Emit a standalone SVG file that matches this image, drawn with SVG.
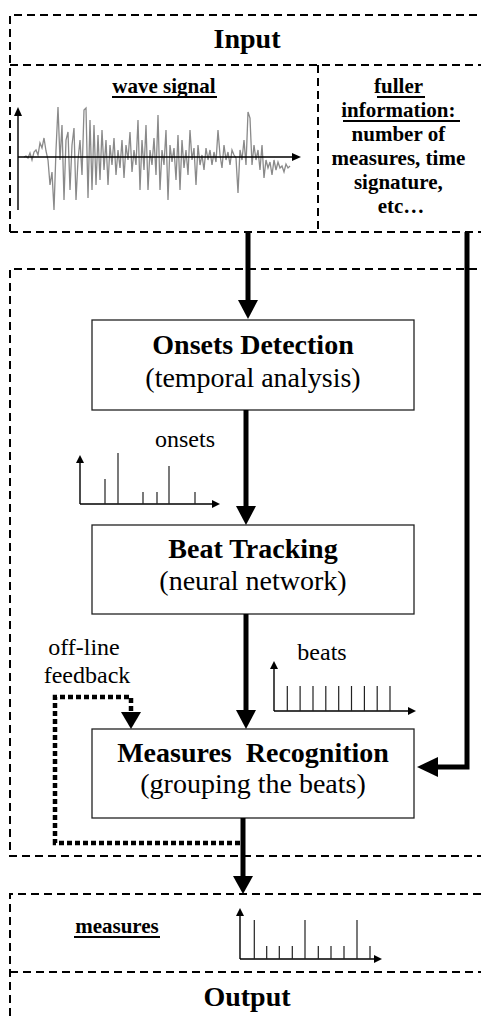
<svg xmlns="http://www.w3.org/2000/svg" width="481" height="1018" viewBox="0 0 481 1018">
<style>
.dash{fill:none;stroke:#000;stroke-width:2;stroke-dasharray:8,5}
.box{fill:#fff;stroke:#222;stroke-width:1.3}
.thick{fill:none;stroke:#000;stroke-width:5}
.dot{fill:none;stroke:#000;stroke-width:4.5;stroke-dasharray:5,3}
.ax{fill:none;stroke:#000;stroke-width:1.4}
.tk{fill:none;stroke:#222;stroke-width:1.2}
.hd{fill:#000}
.t{font-family:"Liberation Serif","Times New Roman",serif;fill:#000}
.b28{font-size:28px;font-weight:bold}
.r28{font-size:28px}
.r24{font-size:24px}
.b21{font-size:21px;font-weight:bold}
.ul{stroke:#000;stroke-width:2}
</style>
<rect width="481" height="1018" fill="#fff"/>

<g id="input">
<path class="dash" d="M10,232 V15 H481 M10,65 H481 M10,232 H481 M318,65 V232"/>
<text class="t b28" x="247" y="48" text-anchor="middle">Input</text>
</g>

<g id="wave-signal">
<text class="t b21" x="164" y="93" text-anchor="middle">wave signal</text>
<line class="ul" x1="112" y1="97" x2="217" y2="97"/>
<polyline fill="none" stroke="#8a8a8a" stroke-width="1.3" points="24,157 26,156 28,158 30,153 32,160 34,152 36,150 38,155 40,143 42,148 44,138 46,151 48,160 50,185 52,172 54,210 56,150 58,107 60,160 62,125 64,200 66,140 68,132 70,190 72,145 74,128 76,200 78,160 80,140 82,175 84,110 86,108 88,198 90,120 92,190 94,125 96,185 98,135 100,180 102,130 104,170 106,140 108,185 110,145 112,165 114,138 116,175 118,150 120,168 122,140 124,178 126,145 128,160 130,132 132,172 134,150 136,165 138,120 140,190 142,140 144,170 146,125 148,190 150,150 152,165 154,138 156,175 158,115 160,190 162,150 164,165 166,130 168,200 170,145 172,162 174,148 176,180 178,135 180,190 182,140 184,168 186,150 188,175 190,130 192,160 194,148 196,185 198,145 200,165 202,155 204,170 206,148 208,160 210,150 212,165 214,152 216,162 218,130 220,155 222,168 224,145 226,160 228,152 230,165 232,150 234,155 236,158 238,193 240,150 242,160 244,140 246,165 248,112 250,118 252,165 254,145 256,160 258,150 260,170 262,145 264,178 266,160 268,168 270,162 272,175 274,160 276,170 278,162 280,168 282,166 284,172 286,164 288,168 290,166"/>
<path class="ax" d="M18,210 V114 M18,157 H294"/>
<polygon class="hd" points="14,116 22,116 18,107"/>
<polygon class="hd" points="292,153 292,161 301,157"/>
</g>

<g id="fuller-info">
<text class="t b21" text-anchor="middle">
<tspan x="401" y="93">fuller</tspan>
<tspan x="401" y="117">information:</tspan>
<tspan x="401" y="141">number of</tspan>
<tspan x="401" y="165">measures, time</tspan>
<tspan x="401" y="189">signature,</tspan>
<tspan x="401" y="213">etc…</tspan>
</text>
<line class="ul" x1="377" y1="97" x2="425" y2="97"/>
<line class="ul" x1="343" y1="121" x2="460" y2="121"/>
</g>

<g id="process">
<path class="dash" d="M477,269 H10 V856 H481"/>
</g>

<g id="onsets-detection">
<rect class="box" x="92" y="320" width="322" height="90"/>
<text class="t b28" x="253" y="354" text-anchor="middle">Onsets Detection</text>
<text class="t r28" x="253" y="387" text-anchor="middle">(temporal analysis)</text>
</g>

<g id="onsets-chart">
<text class="t r24" x="185" y="447" text-anchor="middle">onsets</text>
<path class="ax" d="M80,504 V461 M80,504 H214"/>
<polygon class="hd" points="76,463 84,463 80,455"/>
<polygon class="hd" points="212,500 212,508 220,504"/>
<path class="tk" d="M105,504 V479 M118,504 V453 M143,504 V492 M157,504 V492 M169,504 V466 M195,504 V492"/>
</g>

<g id="beat-tracking">
<rect class="box" x="92" y="525" width="322" height="89"/>
<text class="t b28" x="253" y="558" text-anchor="middle">Beat Tracking</text>
<text class="t r28" x="253" y="590" text-anchor="middle">(neural network)</text>
</g>

<g id="beats-chart">
<text class="t r24" x="322" y="660" text-anchor="middle">beats</text>
<path class="ax" d="M274,711 V667 M274,711 H410"/>
<polygon class="hd" points="270,669 278,669 274,661"/>
<polygon class="hd" points="408,707 408,715 416,711"/>
<path class="tk" d="M287.3,711 V686 M300.1,711 V686 M313,711 V686 M325.8,711 V686 M338.7,711 V686 M351.5,711 V686 M364.4,711 V686 M377.2,711 V686 M390,711 V686"/>
</g>

<g id="feedback-label">
<text class="t r24" text-anchor="middle">
<tspan x="87" y="655">off-line</tspan>
<tspan x="87" y="683">feedback</tspan>
</text>
</g>

<g id="measures-recognition">
<rect class="box" x="92" y="729" width="322" height="89"/>
<text class="t b28" x="253" y="762" text-anchor="middle" xml:space="preserve">Measures  Recognition</text>
<text class="t r28" x="253" y="793" text-anchor="middle">(grouping the beats)</text>
</g>

<g id="output">
<path class="dash" d="M481,894 H10 V1018 M10,972 H481"/>
<text class="t b28" x="247" y="1006" text-anchor="middle">Output</text>
</g>

<g id="measures-chart">
<text class="t b21" x="117" y="933" text-anchor="middle">measures</text>
<line class="ul" x1="74" y1="937" x2="160" y2="937"/>
<path class="ax" d="M240,959 V914 M240,959 H376"/>
<polygon class="hd" points="236,916 244,916 240,908"/>
<polygon class="hd" points="374,955 374,963 382,959"/>
<path class="tk" d="M254.3,959 V920 M266.7,959 V946 M279.3,959 V946 M292.3,959 V946 M305,959 V920 M318.3,959 V946 M331,959 V946 M344,959 V946 M357,959 V920 M370,959 V946"/>
</g>

<g id="connectors">
<line class="thick" x1="248" y1="232" x2="248" y2="302"/>
<polygon class="hd" points="238,300 258,300 248,319"/>
<line class="thick" x1="246" y1="410" x2="246" y2="508"/>
<polygon class="hd" points="236,506 256,506 246,525"/>
<line class="thick" x1="246" y1="614" x2="246" y2="712"/>
<polygon class="hd" points="236,710 256,710 246,729"/>
<path class="thick" d="M467,232 V767 H436"/>
<polygon class="hd" points="438,757 438,777 417,767"/>
<line class="thick" x1="243" y1="818" x2="243" y2="878"/>
<polygon class="hd" points="233,876 253,876 243,894"/>
<path class="dot" d="M240,843 H55 V697 H131 V713"/>
<polygon class="hd" points="121,712 141,712 131,729"/>
</g>
</svg>
